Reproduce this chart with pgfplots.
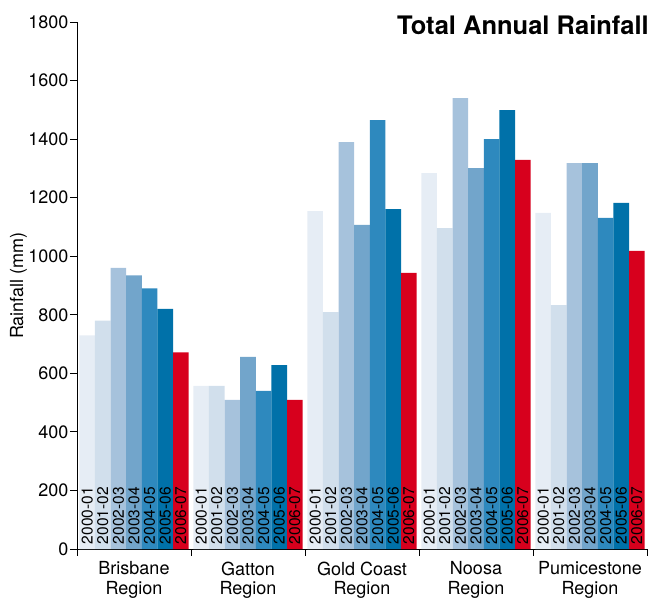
\documentclass[border=0pt]{standalone}
\usepackage{pgfplots}
\usepackage{pgfplotstable}
\pgfplotsset{compat=1.18}
\usepackage{fontspec}
\setmainfont{TeX Gyre Heros}

% Annual rainfall (mm) per region, one column per year
\pgfplotstableread{
reg  y0001 y0102 y0203 y0304 y0405 y0506 y0607
0    730   780   960   935   890   820   672
1    557   557   509   656   540   628   509
2    1154  809   1390  1107  1465  1161  943
3    1284  1096  1540  1301  1400  1499  1329
4    1148  833   1318  1318  1131  1182  1018
}\rainfall

\definecolor{cA}{HTML}{E6EDF5}
\definecolor{cB}{HTML}{D1DFEC}
\definecolor{cC}{HTML}{A6C2DC}
\definecolor{cD}{HTML}{72A5CB}
\definecolor{cE}{HTML}{2E89BE}
\definecolor{cF}{HTML}{0071A9}
\definecolor{cG}{HTML}{D7001D}

\newcommand{\barw}{0.137}

\begin{document}
\begin{tikzpicture}
\path[use as bounding box] (-77pt,-49pt) rectangle (576pt,549pt);
\begin{axis}[
  at={(0,0)}, anchor=south west,
  scale only axis, width=570pt, height=527pt,
  xmin=-0.5, xmax=4.5, ymin=0, ymax=1800,
  axis lines=left,
  axis line style={-, line width=0.9pt, black},
  tick align=outside,
  major tick length=7pt,
  minor tick length=6.5pt,
  every tick/.style={black, line width=0.9pt},
  xtick={0,1,2,3,4},
  minor xtick={-0.5,0.5,1.5,2.5,3.5,4.5},
  major x tick style={draw=none},
  xticklabels={Brisbane\\Region, Gatton\\Region, Gold Coast\\Region, Noosa\\Region, Pumicestone\\Region},
  xticklabel style={align=center, anchor=north, inner sep=0pt, yshift=-5.5pt,
    font=\fontsize{18}{19.5}\selectfont},
  ytick={0,200,...,1800},
  yticklabel style={inner sep=1.3pt, font=\fontsize{18}{20}\selectfont},
  /pgf/number format/assume math mode=true,
  /pgf/number format/1000 sep={},
  ylabel={Rainfall (mm)},
  ylabel style={at={(axis description cs:-0.0947,0.5)}, anchor=base,
    font=\fontsize{18}{20}\selectfont},
  clip=false,
]
\pgfplotsset{
  bars/.style={ybar, bar width=\barw, draw=none, fill=#1},
  % #1 = offset of the bar from the group centre, #2 = year
  yearlbl/.style 2 args={forget plot, draw=none, mark=none, nodes near coords={#2},
    every node near coord/.style={xshift=#1, yshift=4.6pt, rotate=90, anchor=west,
      inner sep=0pt, font=\fontsize{15.5}{16}\selectfont, text=black}},
}
\addplot[bars=cA, bar shift=-3*\barw] table[x=reg, y=y0001] {\rainfall};
\addplot[bars=cB, bar shift=-2*\barw] table[x=reg, y=y0102] {\rainfall};
\addplot[bars=cC, bar shift=-1*\barw] table[x=reg, y=y0203] {\rainfall};
\addplot[bars=cD, bar shift=0]        table[x=reg, y=y0304] {\rainfall};
\addplot[bars=cE, bar shift=1*\barw]  table[x=reg, y=y0405] {\rainfall};
\addplot[bars=cF, bar shift=2*\barw]  table[x=reg, y=y0506] {\rainfall};
\addplot[bars=cG, bar shift=3*\barw]  table[x=reg, y=y0607] {\rainfall};

% year names written up the foot of each bar
\addplot[yearlbl={-46.86pt}{2000-01}] coordinates {(0,0) (1,0) (2,0) (3,0) (4,0)};
\addplot[yearlbl={-31.24pt}{2001-02}] coordinates {(0,0) (1,0) (2,0) (3,0) (4,0)};
\addplot[yearlbl={-15.62pt}{2002-03}] coordinates {(0,0) (1,0) (2,0) (3,0) (4,0)};
\addplot[yearlbl={0pt}{2003-04}]      coordinates {(0,0) (1,0) (2,0) (3,0) (4,0)};
\addplot[yearlbl={15.62pt}{2004-05}]  coordinates {(0,0) (1,0) (2,0) (3,0) (4,0)};
\addplot[yearlbl={31.24pt}{2005-06}]  coordinates {(0,0) (1,0) (2,0) (3,0) (4,0)};
\addplot[yearlbl={46.86pt}{2006-07}]  coordinates {(0,0) (1,0) (2,0) (3,0) (4,0)};

\node[anchor=base east, inner sep=0pt, xshift=2pt, yshift=-12.3pt,
  font=\fontsize{25.5}{28}\selectfont\bfseries]
  at (rel axis cs:1,1) {Total Annual Rainfall};
\end{axis}
\end{tikzpicture}
\end{document}
